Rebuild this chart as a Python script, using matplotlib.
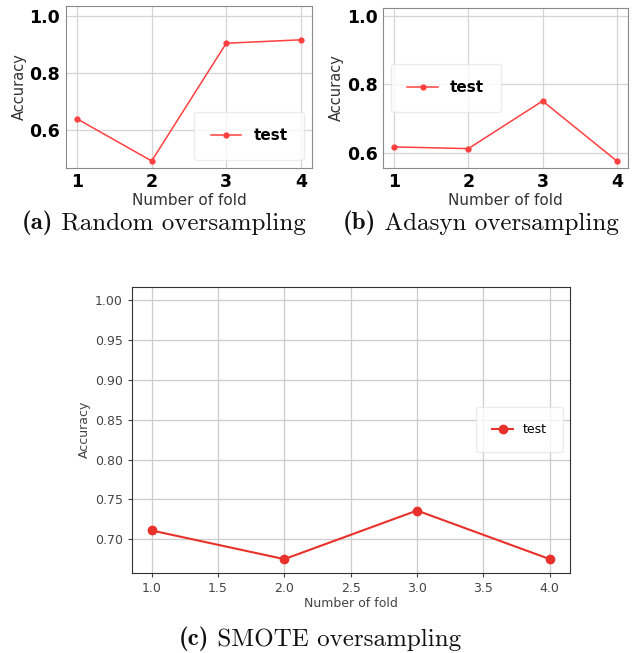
import numpy as np
import matplotlib
matplotlib.use("Agg")
import matplotlib.pyplot as plt

# data
folds = [1, 2, 3, 4]
acc_random = [0.639, 0.491, 0.904, 0.916]
acc_adasyn = [0.617, 0.612, 0.751, 0.576]
acc_smote = [0.711, 0.675, 0.736, 0.675]

fig = plt.figure(figsize=(6.33, 6.53), dpi=100)

ax_a = fig.add_axes([0.104, 0.743, 0.389, 0.248])
ax_b = fig.add_axes([0.605, 0.743, 0.387, 0.245])
ax_c = fig.add_axes([0.208, 0.123, 0.692, 0.438])


def small_panel(ax, y, ylim, yticks, legend_loc):
    ax.plot(folds, y, color='#ff4040', marker='o', markersize=3.5, lw=1.1, label='test')
    ax.set_xlim(0.85, 4.15)
    ax.set_ylim(*ylim)
    ax.set_xticks(folds)
    ax.set_yticks(yticks)
    ax.grid(color='#d4d4d4', lw=0.9)
    ax.tick_params(length=0, labelsize=12.5, pad=4)
    for lab in ax.get_xticklabels() + ax.get_yticklabels():
        lab.set_fontweight('bold')
    for sp in ax.spines.values():
        sp.set_color('#8a8a8a')
    ax.set_xlabel('Number of fold', fontsize=11, color='#333333', labelpad=1)
    ax.set_ylabel('Accuracy', fontsize=10.5, color='#333333', labelpad=2)
    leg = ax.legend(loc=legend_loc, prop={'weight': 'bold', 'size': 11},
                    borderpad=1.1, handlelength=2.0, framealpha=0.8)
    leg.get_frame().set_edgecolor('#e6e6e6')


small_panel(ax_a, acc_random, (0.467, 1.035), [0.6, 0.8, 1.0], 'lower right')
small_panel(ax_b, acc_adasyn, (0.556, 1.023), [0.6, 0.8, 1.0], 'center left')

ax_c.plot(folds, acc_smote, color='#e8312a', marker='o', markersize=6, lw=1.5, label='test')
ax_c.set_xlim(0.85, 4.15)
ax_c.set_ylim(0.658, 1.017)
ax_c.set_xticks(np.arange(1.0, 4.01, 0.5))
ax_c.set_yticks(np.arange(0.70, 1.001, 0.05))
ax_c.grid(color='#cccccc', lw=0.9)
ax_c.tick_params(labelsize=9, colors='#444444', length=3)
for sp in ax_c.spines.values():
    sp.set_color('#333333')
ax_c.set_xlabel('Number of fold', fontsize=9, color='#444444', labelpad=2)
ax_c.set_ylabel('Accuracy', fontsize=9, color='#444444', labelpad=3)
leg = ax_c.legend(loc='center right', fontsize=9, borderpad=1.3, handlelength=1.7)
leg.get_frame().set_edgecolor('#e6e6e6')


def caption(x_px, y_px, tag, text):
    t = fig.text(x_px / 633, 1 - y_px / 653, tag, family='cmb10', fontsize=18,
                 ha='left', va='baseline', color='#111111')
    ax_c.annotate(' ' + text, xy=(1, 0), xycoords=t, family='cmr10', fontsize=18,
                  ha='left', va='bottom', color='#111111', annotation_clip=False)


caption(22, 229, '(a)', 'Random oversampling')
caption(343, 229, '(b)', 'Adasyn oversampling')
caption(179, 645, '(c)', 'SMOTE oversampling')

fig.savefig('out.png', dpi=100)
